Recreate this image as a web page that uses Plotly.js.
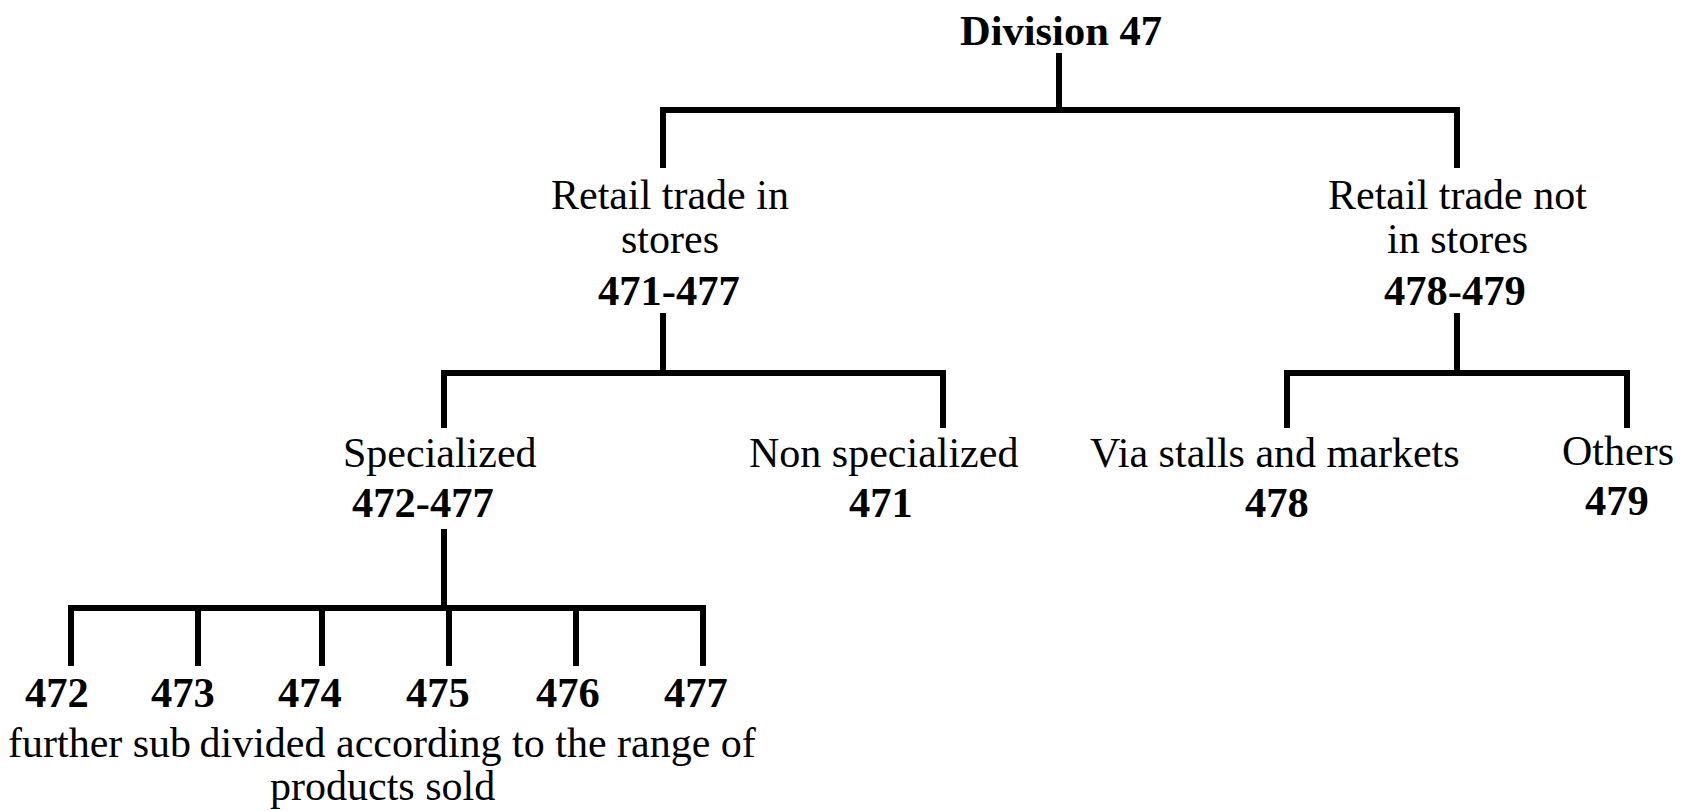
<!DOCTYPE html>
<html>
<head>
<meta charset="utf-8">
<script src="https://cdn.plot.ly/plotly-3.0.1.min.js"></script>
<style>html,body{margin:0;padding:0;background:#fff;}#chart{width:1683px;height:811px;}</style>
</head>
<body>
<div id="chart"></div>
<script>
// ---- Data: the tree of Division 47 ----
const nodeNames = ['', 'Retail trade in\nstores', 'Retail trade not\nin stores', 'Specialized', 'Non specialized',
                   'Via stalls and markets', 'Others', '', '', '', '', '', ''];
const nodeCodes = ['Division 47', '471-477', '478-479', '472-477', '471', '478', '479',
                   '472', '473', '474', '475', '476', '477'];
const nodeParents = [-1, 0, 0, 1, 1, 2, 2, 3, 3, 3, 3, 3, 3];
const footnoteLines = ['further sub\u2009divided according to the range of', 'products sold'];

// ---- Layout (pixel positions of the diagram, not data) ----
const lineX  = [1059, 663, 1457, 444, 943, 1287, 1627, 71, 198, 322, 449, 576, 703];
const nameX  = [1061, 670, 1457, 440, 883, 1275, 1618, 0, 0, 0, 0, 0, 0];
const codeX  = [1061, 669, 1455, 423, 881, 1277, 1617, 57, 183, 310, 438, 568, 696];
const depth  = [0, 1, 1, 2, 2, 2, 2, 3, 3, 3, 3, 3, 3];
// per parent depth: stub top, bus y, child top
const stubTop  = [53, 313, 529];
const busY     = [110, 373, 608];
const childTop = [168, 428, 666];
// baselines for text by depth
const nameBase = [[], [209, 253], [467], []];
const codeBase = [45, 305, 517, 707];
const footBase = [757, 800];
const footX = 382;

const RS = 42, BS = 42.5;
const fam = 'Liberation Serif, "Times New Roman", serif';
const fontR = {family: fam, size: RS, color: '#000'};
const fontB = {family: fam, size: BS, color: '#000', weight: 'bold'};

// ---- connectors ----
const xs = [], ys = [];
function seg(pts) { pts.forEach(p => { xs.push(p[0]); ys.push(p[1]); }); xs.push(null); ys.push(null); }
nodeParents.forEach((p, i) => {
  const kids = nodeParents.map((q, j) => q === i ? j : -1).filter(j => j >= 0);
  if (!kids.length) return;
  const d = depth[i];
  const kx = kids.map(k => lineX[k]);
  const minX = Math.min(...kx), maxX = Math.max(...kx);
  seg([[lineX[i], stubTop[d]], [lineX[i], busY[d]]]);
  seg([[minX, childTop[d]], [minX, busY[d]], [maxX, busY[d]], [maxX, childTop[d]]]);
  kids.forEach(k => { if (lineX[k] !== minX && lineX[k] !== maxX) seg([[lineX[k], busY[d]], [lineX[k], childTop[d]]]); });
});

// ---- labels ----
const ann = [];
function mid(base, size) { return base - 0.34 * size; }
nodeNames.forEach((nm, i) => {
  const d = depth[i];
  if (nm) {
    const lines = nm.split('\n');
    lines.forEach((ln, li) => {
      let b = nameBase[d][li];
      if (i === 6) b -= 2;
      ann.push({x: nameX[i], y: mid(b, RS), text: ln, font: fontR});
    });
  }
  let cb = codeBase[d];
  if (i === 6) cb -= 2;
  ann.push({x: codeX[i], y: mid(cb, BS), text: nodeCodes[i], font: fontB});
});
footnoteLines.forEach((ln, li) => ann.push({x: footX, y: mid(footBase[li], RS), text: ln, font: fontR}));
ann.forEach(a => { a.xref = 'x'; a.yref = 'y'; a.showarrow = false; a.xanchor = 'center'; a.yanchor = 'middle'; a.borderpad = 0; });

Plotly.newPlot('chart', [{
  x: xs, y: ys, type: 'scatter', mode: 'lines', connectgaps: false,
  line: {color: '#000', width: 6}, hoverinfo: 'skip'
}], {
  width: 1683, height: 811,
  margin: {l: 0, r: 0, t: 0, b: 0},
  paper_bgcolor: '#fff', plot_bgcolor: '#fff',
  showlegend: false,
  xaxis: {range: [0, 1683], visible: false, fixedrange: true},
  yaxis: {range: [811, 0], visible: false, fixedrange: true},
  annotations: ann
}, {displayModeBar: false, staticPlot: true});
</script>
</body>
</html>
